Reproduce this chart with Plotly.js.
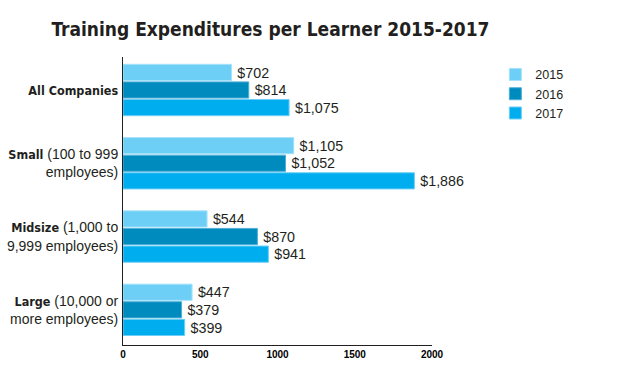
<!DOCTYPE html>
<html><head><meta charset="utf-8">
<script src="https://cdn.plot.ly/plotly-3.0.1.min.js"></script>
<style>html,body{margin:0;padding:0;background:#fff;}#chart{width:619px;height:390px;}</style>
</head><body><div id="chart"></div>
<script>
var categories = ["All Companies", "Small", "Midsize", "Large"];
var boldParts = ["All Companies", "Small", "Midsize", "Large"];
var restParts = ["", " (100 to 999<br>employees)", " (1,000 to<br>9,999 employees)", " (10,000 or<br>more employees)"];
var years = ["2015", "2016", "2017"];
var v2015 = [702, 1105, 544, 447];
var v2016 = [814, 1052, 870, 379];
var v2017 = [1075, 1886, 941, 399];
var xTicks = [0, 500, 1000, 1500, 2000];

var colors = ["#6DCFF6", "#008BBF", "#00AEEF"];
var edges = ["#A6E2FA", "#4FB0D6", "#6CCEF5"];
var series = [v2015, v2016, v2017];
var condensed = "DejaVu Sans Condensed";

function fmt(v){ return "\u2009$" + v.toLocaleString("en-US"); }
var categoryLabels = boldParts.map(function(b, i){
  return "<span style=\"font-family:'" + condensed + "';font-weight:bold;font-size:12.5px\">" + b + "</span>" + restParts[i];
});

var traces = series.map(function(vals, i){
  return {
    type: "bar", orientation: "h", name: years[i],
    y: categories, x: vals,
    text: vals.map(fmt), textposition: "outside", cliponaxis: false,
    textfont: {family: "Liberation Sans, Arial, sans-serif", size: 15, color: "#231F20"},
    marker: {color: colors[i], line: {color: edges[i], width: 1}},
    hoverinfo: "x+name"
  };
});

var layout = {
  width: 619, height: 390,
  margin: {l: 123, r: 187, t: 57, b: 45},
  paper_bgcolor: "#fff", plot_bgcolor: "#fff",
  title: {text: "<b>Training Expenditures per Learner 2015-2017</b>",
    font: {family: condensed + ", Liberation Sans, sans-serif", size: 19, color: "#231F20"},
    x: 0.083, xanchor: "left", y: 0.925, yanchor: "middle"},
  barmode: "group", bargap: 0.28, bargroupgap: 0.08,
  showlegend: true,
  legend: {x: 1.205, xanchor: "left", y: 0.99, yanchor: "top",
    font: {family: "Liberation Sans, Arial, sans-serif", size: 12.5, color: "#231F20"},
    traceorder: "normal", itemwidth: 30, tracegroupgap: 0},
  xaxis: {range: [0, 2000], tickvals: xTicks, ticktext: xTicks.map(String),
    showgrid: false, zeroline: false, showline: true, linecolor: "#231F20", linewidth: 1,
    ticks: "", tickfont: {family: "Liberation Sans, Arial, sans-serif", size: 10, color: "#000", weight: "bold"},
    fixedrange: true},
  yaxis: {type: "category", range: [3.48, -0.45], tickvals: categories, ticktext: categoryLabels,
    showgrid: false, zeroline: false, showline: true, linecolor: "#231F20", linewidth: 1,
    ticks: "", ticklabelstandoff: 1,
    tickfont: {family: "Liberation Sans, Arial, sans-serif", size: 14, color: "#231F20"},
    fixedrange: true}
};
Plotly.newPlot("chart", traces, layout, {displayModeBar: false, staticPlot: true});
</script></body></html>
